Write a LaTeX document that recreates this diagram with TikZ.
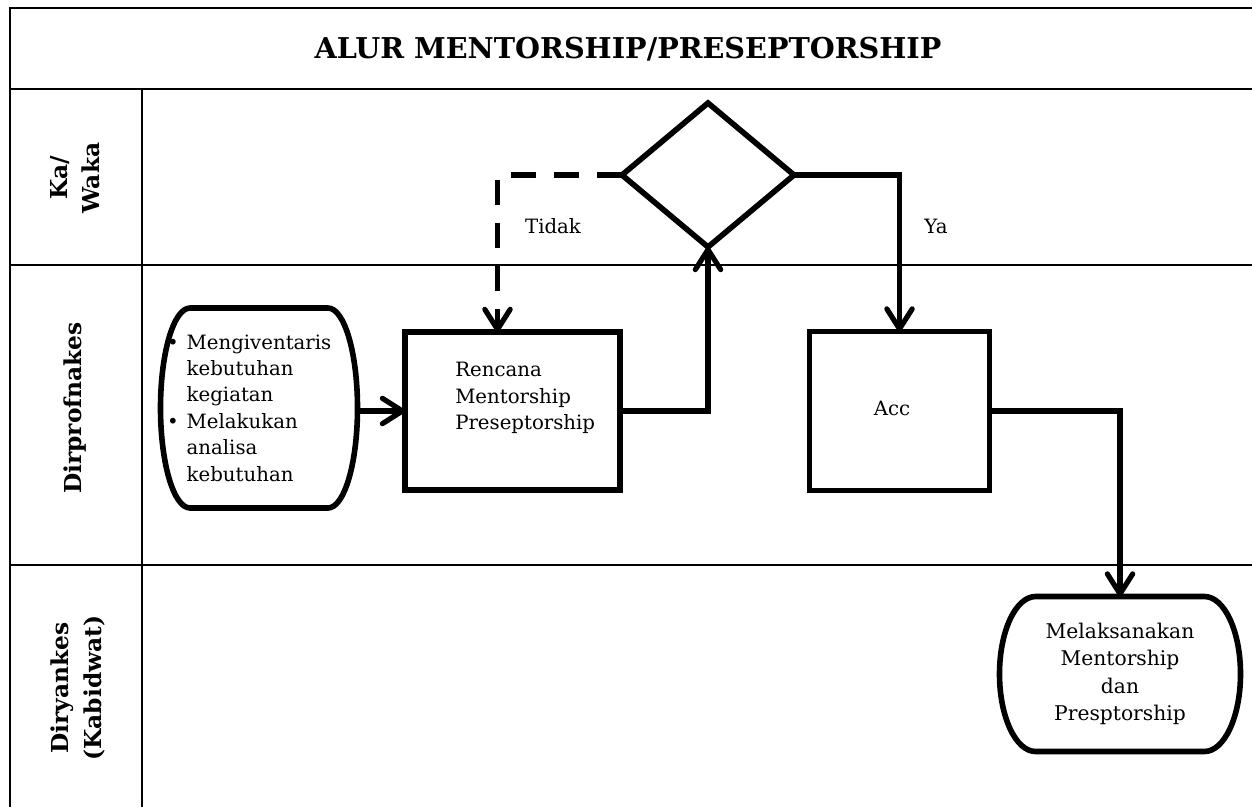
\documentclass[tikz,border=0pt]{standalone}
\usepackage{fontspec}
\setmainfont{DejaVu Serif}
\usetikzlibrary{arrows.meta,shapes.geometric,calc}
\newcommand\pxu{0.75pt}
\newcommand\bodyfnt{\fontsize{14.8}{19.8}\selectfont}
\newcommand\termfnt{\fontsize{15.2}{20.5}\selectfont}
\newcommand\ttlfnt{\fontsize{21.5}{25}\selectfont\bfseries}
\newcommand\lanefnt{\fontsize{17.5}{24.5}\selectfont\bfseries}
\newcommand\bul{\llap{\textbullet\hspace{6pt}}}
\tikzset{
  outerline/.style={line width=2pt},
  laneline/.style={line width=1.4pt},
  procbox/.style={draw, rectangle, line width=4.2pt, inner sep=0pt, outer sep=0pt},
  decision/.style={draw, diamond, line width=4.2pt, inner sep=0pt, outer sep=0pt,
    minimum width=172*\pxu, minimum height=144*\pxu},
  termnode/.style={inner sep=0pt, outer sep=0pt},
  flow/.style={line width=3.9pt,
    -{Straight Barb[length=15pt,width=19pt,line cap=round,line join=round]}},
  dashflow/.style={flow, dash pattern=on 18.75pt off 13.5pt},
  lanelabel/.style={rotate=90, align=center, font=\lanefnt},
  plaintext/.style={font=\bodyfnt, inner sep=0pt}
}
\newcommand\termoutline[1]{%
  \draw[line width=4.2pt, line join=round]
    let \p1=(#1.north west), \p2=(#1.south east),
        \n1={0.15*(\x2-\x1)}, \n2={(\y1-\y2)/2} in
    (\x1+\n1,\y1) -- (\x2-\n1,\y1)
    arc[start angle=90, end angle=-90, x radius={\n1*1pt}, y radius={\n2*1pt}]
    -- (\x1+\n1,\y2)
    arc[start angle=270, end angle=90, x radius={\n1*1pt}, y radius={\n2*1pt}]
    -- cycle;}
\begin{document}
\begin{tikzpicture}[x=0.75pt,y=-0.75pt]
\useasboundingbox (0,0) rectangle (1252,807);
% frame and swimlanes
\draw[outerline] (10,807) -- (10,8) -- (1252,8);
\draw[outerline] (10,89) -- (1252,89);
\draw[laneline] (142,89) -- (142,807);
\draw[laneline] (10,265) -- (1252,265);
\draw[laneline] (10,565) -- (1252,565);

\node[font=\ttlfnt] (title) at (628,49) {ALUR MENTORSHIP/PRESEPTORSHIP};

\node[lanelabel] (lane1) at (75,178) {Ka/\\Waka};
\node[lanelabel] (lane2) at (75,408) {Dirprofnakes};
\node[lanelabel] (lane3) at (78,688) {Diryankes\\(Kabidwat)};

% nodes
\node[termnode, minimum width=197*\pxu, minimum height=200*\pxu,
      align=left, font=\bodyfnt] (start) at (259,408)
  {\bul Mengiventaris\\kebutuhan\\kegiatan\\\bul Melakukan\\analisa\\kebutuhan};
\termoutline{start}

\node[procbox, minimum width=215*\pxu, minimum height=158*\pxu] (rencana) at (512.5,411) {};
\node[plaintext, anchor=north west, align=left] (rencanatext) at (455,362)
  {Rencana\\Mentorship\\Preseptorship};

\node[decision] (dec) at (708,175) {};

\node[procbox, minimum width=180*\pxu, minimum height=159*\pxu] (acc) at (899.5,411) {};
\node[plaintext] (acctext) at (892,408) {Acc};

\node[termnode, minimum width=241*\pxu, minimum height=155*\pxu,
      align=center, font=\termfnt] (end) at (1120,674)
  {Melaksanakan\\Mentorship\\dan\\Presptorship};
\termoutline{end}

% connectors
\draw[flow] (rencana.west -| start.east) -- (rencana.west);
\draw[flow] (rencana.east) -| (dec.south);
\draw[dashflow] (dec.west) -| ([xshift=-11.25pt]rencana.north);
\draw[flow] (dec.east) -| (acc.north);
\draw[flow] (acc.east) -| (end.north);

\node[plaintext] (tidak) at (553,226) {Tidak};
\node[plaintext] (ya) at (936,226) {Ya};
\end{tikzpicture}
\end{document}
